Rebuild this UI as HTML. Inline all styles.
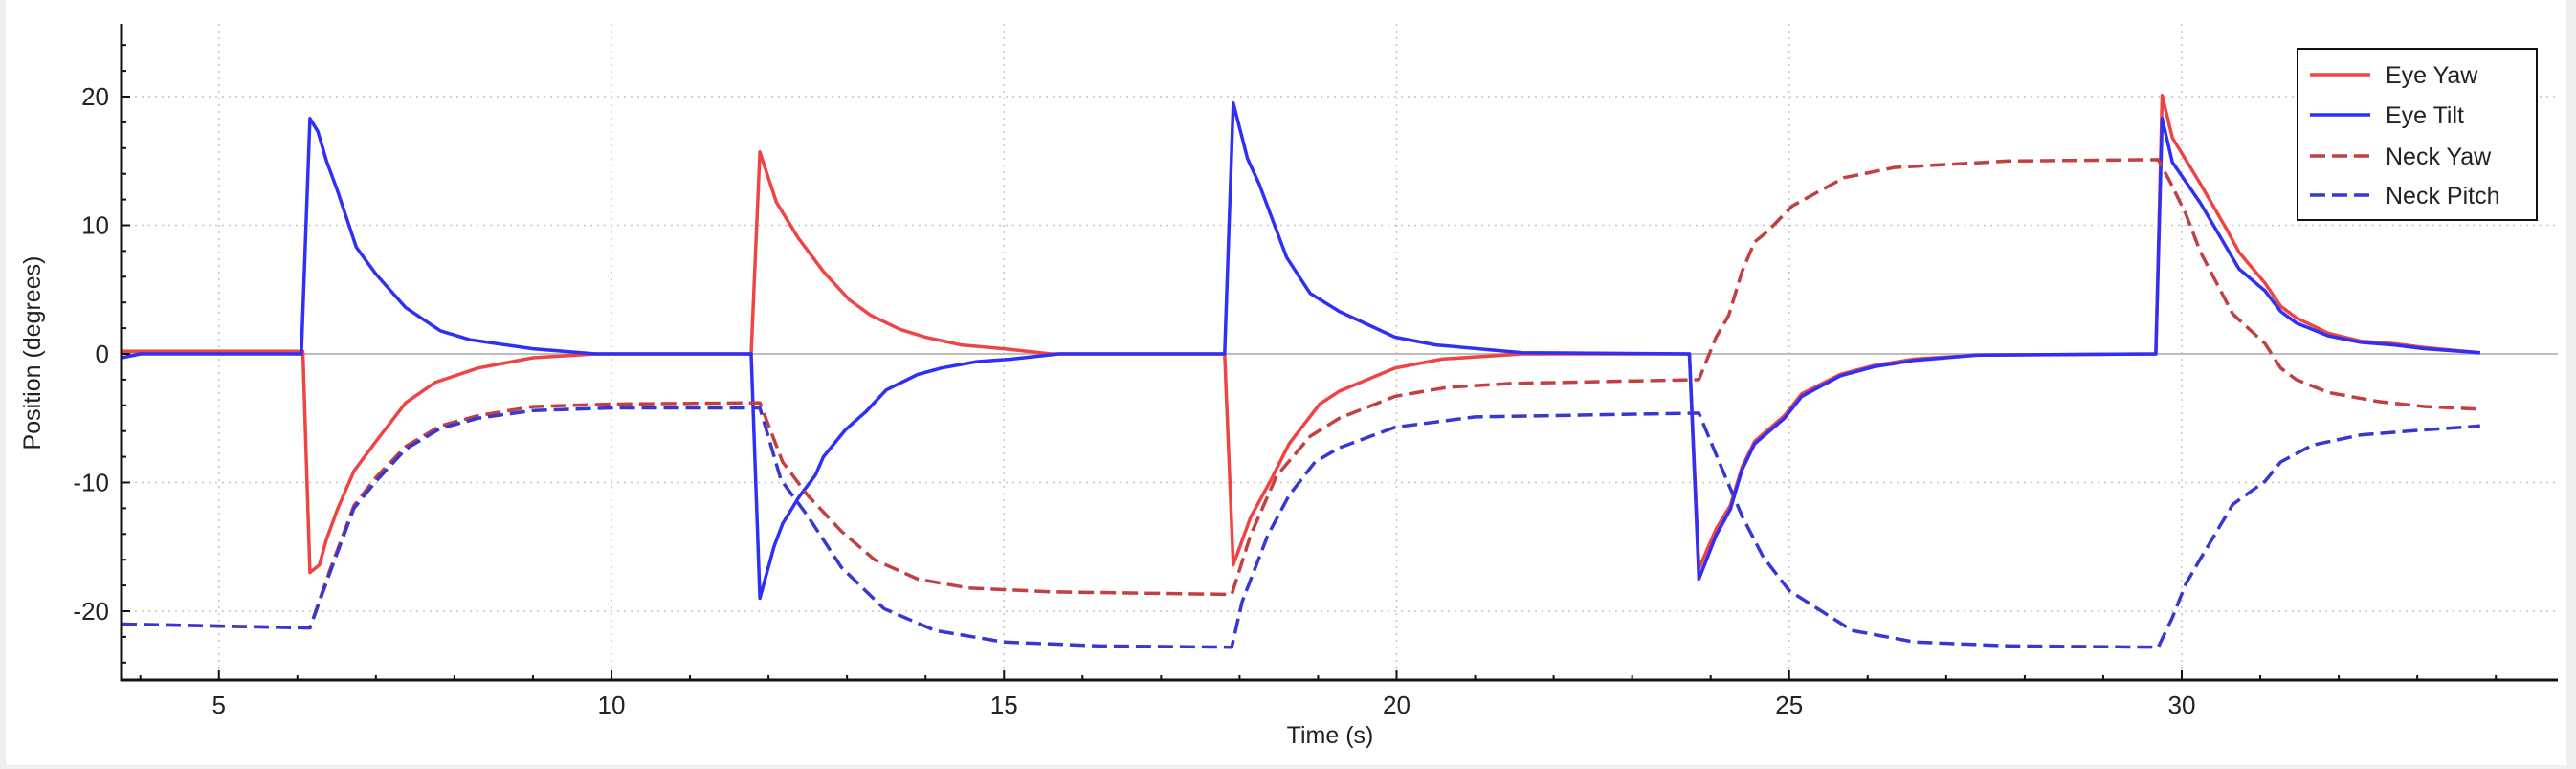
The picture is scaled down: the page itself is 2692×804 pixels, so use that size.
<!DOCTYPE html>
<html>
<head>
<meta charset="utf-8">
<style>
html,body{margin:0;padding:0;background:#efefef;}
svg{display:block;font-family:"Liberation Sans","DejaVu Sans",sans-serif;}
</style>
</head>
<body>
<svg id="chart" width="2692" height="804" viewBox="0 0 2692 804" xmlns="http://www.w3.org/2000/svg">
  <rect x="6" y="0" width="2676" height="800" fill="#ffffff"/>
  <g id="grid"></g>
  <g id="series"></g>
  <g id="axes"></g>
  <text x="0" y="0" font-size="25" fill="#222" text-anchor="middle" transform="translate(42,369) rotate(-90)">Position (degrees)</text>
  <text x="1390" y="777" font-size="25" fill="#222" text-anchor="middle">Time (s)</text>
  <g>
    <rect x="2401" y="51" width="250" height="179" fill="#fff" stroke="#111" stroke-width="2"/>
    <g><line x1="2414" y1="78" x2="2477" y2="78" stroke="#ef4444" stroke-width="3.5"/><text x="2493" y="87" font-size="25" fill="#222">Eye Yaw</text></g>
    <g><line x1="2414" y1="120" x2="2477" y2="120" stroke="#2f2ff5" stroke-width="3.5"/><text x="2493" y="129" font-size="25" fill="#222">Eye Tilt</text></g>
    <g><line x1="2414" y1="163" x2="2477" y2="163" stroke="#c24040" stroke-width="3.5" stroke-dasharray="16 7"/><text x="2493" y="172" font-size="25" fill="#222">Neck Yaw</text></g>
    <g><line x1="2414" y1="204" x2="2477" y2="204" stroke="#3737d2" stroke-width="3.5" stroke-dasharray="16 7"/><text x="2493" y="213" font-size="25" fill="#222">Neck Pitch</text></g>
  </g>
</svg>
<script>
const xTicks = [5, 10, 15, 20, 25, 30];
const yTicks = [-20, -10, 0, 10, 20];

const eyeYawT = [3.76,6.07,6.16,6.28,6.37,6.51,6.72,7.0,7.38,7.76,8.3,9.0,9.8,11.78,11.89,12.1,12.38,12.7,13.03,13.3,13.68,14.0,14.45,15.0,15.6,17.81,17.92,18.14,18.4,18.63,19.02,19.27,19.98,20.58,21.6,23.73,23.85,24.07,24.25,24.4,24.56,24.94,25.16,25.65,26.08,26.6,27.4,29.67,29.75,29.88,30.24,30.57,30.73,31.06,31.26,31.46,31.87,32.28,32.7,33.1,33.8];
const eyeYawV = [0.2,0.2,-17.0,-16.4,-14.4,-12.1,-9.1,-6.8,-3.8,-2.2,-1.1,-0.3,0,0,15.7,11.8,9.0,6.4,4.2,3.0,1.9,1.3,0.7,0.4,0,0,-16.4,-12.7,-9.8,-7.0,-3.9,-2.9,-1.1,-0.4,0,0,-16.7,-13.6,-11.8,-8.8,-6.8,-4.8,-3.1,-1.6,-0.9,-0.4,-0.1,0,20.1,16.8,13.2,9.7,7.9,5.5,3.7,2.8,1.6,1.0,0.8,0.5,0.1];

const eyeTiltT = [3.76,4.0,6.05,6.16,6.26,6.37,6.51,6.75,7.0,7.38,7.82,8.2,9.0,9.8,11.78,11.89,12.07,12.18,12.38,12.6,12.7,12.98,13.24,13.5,13.9,14.2,14.65,15.1,15.7,17.81,17.92,18.1,18.25,18.6,18.9,19.27,19.98,20.5,21.6,23.73,23.85,24.07,24.25,24.4,24.56,24.94,25.16,25.65,26.08,26.6,27.4,29.67,29.75,29.88,30.24,30.73,31.06,31.26,31.46,31.87,32.28,32.7,33.1,33.8];
const eyeTiltV = [-0.3,0,0,18.3,17.3,15.0,12.7,8.3,6.2,3.6,1.8,1.1,0.4,0,0,-19.0,-15.0,-13.2,-11.2,-9.4,-8.0,-5.9,-4.5,-2.8,-1.6,-1.1,-0.6,-0.4,0,0,19.5,15.2,13.2,7.5,4.7,3.3,1.3,0.7,0.1,0,-17.5,-14.1,-12.1,-9.0,-7.0,-5.0,-3.3,-1.7,-1.0,-0.5,-0.1,0,18.3,14.9,11.7,6.6,4.9,3.3,2.4,1.4,0.9,0.7,0.4,0.1];

const neckYawT = [3.76,6.16,6.42,6.72,7.0,7.38,7.82,8.3,9.0,10.0,11.89,12.18,12.5,12.93,13.35,13.9,14.55,15.6,17.9,18.14,18.47,18.9,19.27,19.98,20.64,21.46,23.85,24.07,24.23,24.4,24.56,24.72,25.04,25.7,26.35,27.8,29.7,29.85,30.05,30.24,30.65,31.06,31.26,31.46,31.87,32.5,33.1,33.8];
const neckYawV = [-21.0,-21.3,-16.7,-11.8,-9.6,-7.2,-5.6,-4.8,-4.1,-3.9,-3.8,-8.4,-11.0,-13.8,-16.0,-17.5,-18.2,-18.5,-18.7,-14.1,-9.5,-6.4,-5.0,-3.3,-2.6,-2.3,-2.0,1.3,3.0,6.4,8.7,9.5,11.5,13.7,14.5,15.0,15.1,13.4,10.9,7.9,3.1,0.8,-1.1,-2.0,-3.0,-3.7,-4.1,-4.3];

const neckPitchT = [3.76,6.16,6.42,6.72,7.0,7.38,7.82,8.3,9.0,10.0,11.89,12.16,12.5,12.93,13.47,14.12,15.0,16.2,17.9,18.03,18.36,18.63,18.96,19.27,19.98,21.0,23.85,24.17,24.4,24.67,25.0,25.8,26.6,27.8,29.7,29.88,30.05,30.24,30.65,31.06,31.26,31.66,32.28,33.1,33.8];
const neckPitchV = [-21.0,-21.3,-16.9,-12.0,-9.9,-7.4,-5.8,-5.0,-4.4,-4.2,-4.2,-9.8,-12.6,-16.6,-19.8,-21.5,-22.4,-22.7,-22.8,-19.3,-14.1,-11.0,-8.4,-7.3,-5.7,-4.9,-4.6,-9.3,-12.6,-15.8,-18.4,-21.5,-22.4,-22.7,-22.8,-20.5,-17.9,-15.9,-11.7,-9.9,-8.4,-7.1,-6.3,-5.9,-5.6];

const NS = "http://www.w3.org/2000/svg";
const X0 = 127, X1 = 2673, Y0 = 25, Y1 = 711;
function xs(t){ return 639 + (t - 10) * 82.05; }
function ys(v){ return 370 - v * 13.45; }
function mk(tag, attrs, parent){
  const e = document.createElementNS(NS, tag);
  for (const k in attrs) e.setAttribute(k, attrs[k]);
  parent.appendChild(e);
  return e;
}
const grid = document.getElementById('grid');
const axes = document.getElementById('axes');
const series = document.getElementById('series');

xTicks.forEach(t => {
  const g = mk('line', {x1: xs(t), x2: xs(t), y1: Y0, y2: Y1, stroke: '#c4c4c4', 'stroke-width': 1.5, 'stroke-dasharray': '2 5'}, grid);
  
  
});
yTicks.forEach(v => {
  const g = mk('line', {x1: X0, x2: X1, y1: ys(v), y2: ys(v), stroke: v === 0 ? '#bdbdbd' : '#c4c4c4', 'stroke-width': v === 0 ? 2 : 1.5, 'stroke-dasharray': v === 0 ? 'none' : '2 5'}, grid);
  
  
});

function drawSeries(T, V, color, dashed, name){
  let d = '';
  T.forEach((t, i) => { d += (i ? 'L' : 'M') + xs(t).toFixed(1) + ',' + ys(V[i]).toFixed(1); });
  const p = mk('path', {d: d, fill: 'none', stroke: color, 'stroke-width': 3.5, 'stroke-linejoin': 'round', 'stroke-dasharray': dashed ? '16 7' : 'none'}, series);
  
  
}
drawSeries(eyeYawT, eyeYawV, '#ef4444', false, 'eye-yaw-line');
drawSeries(eyeTiltT, eyeTiltV, '#2f2ff5', false, 'eye-tilt-line');
drawSeries(neckYawT, neckYawV, '#c24040', true, 'neck-yaw-line');
drawSeries(neckPitchT, neckPitchV, '#3737d2', true, 'neck-pitch-line');

const ya = mk('line', {x1: X0, x2: X0, y1: Y0, y2: Y1 + 1.5, stroke: '#111', 'stroke-width': 3}, axes);


const xa = mk('line', {x1: X0 - 1.5, x2: X1, y1: Y1, y2: Y1, stroke: '#111', 'stroke-width': 3}, axes);



for (let t = 4; t <= 34; t++) {
  const major = t % 5 === 0;
  const tk = mk('line', {x1: xs(t), x2: xs(t), y1: Y1, y2: Y1 - (major ? 10 : 5), stroke: '#111', 'stroke-width': 2}, axes);
  
  
}
for (let v = -24; v <= 24; v += 2) {
  const major = v % 10 === 0;
  const tk = mk('line', {x1: X0, x2: X0 + (major ? 9 : 5), y1: ys(v), y2: ys(v), stroke: '#111', 'stroke-width': 2}, axes);
  
  
}
xTicks.forEach(t => {
  const l = mk('text', {x: xs(t), y: 746, 'font-size': 26, fill: '#222', 'text-anchor': 'middle'}, axes);
  l.textContent = String(t);
  
  
});
yTicks.forEach(v => {
  const l = mk('text', {x: 114, y: ys(v) + 9, 'font-size': 26, fill: '#222', 'text-anchor': 'end'}, axes);
  l.textContent = String(v);
  
  
});
</script>
</body>
</html>
